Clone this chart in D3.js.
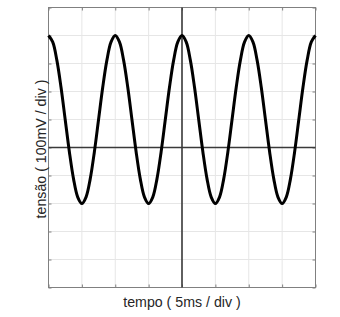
<!DOCTYPE html>
<html><head><meta charset="utf-8">
<script src="https://cdn.jsdelivr.net/npm/d3@7"></script>
<style>html,body{margin:0;padding:0;background:#fff;}svg{display:block;}</style>
</head><body>
<svg id="c" width="340" height="317"></svg>
<script>
// time in divisions (every 1/8 div), voltage in divisions
const timeDiv = d3.range(-32,33).map(k=>k/8);
const cycle = [4,3.77,3.12,2.15,1,-0.15,-1.12,-1.77,-2,-1.77,-1.12,-0.15,1,2.15,3.12,3.77];
const voltDiv = [
  4,3.77,3.12,2.15,1,-0.15,-1.12,-1.77,-2,-1.77,-1.12,-0.15,1,2.15,3.12,3.77,
  4,3.77,3.12,2.15,1,-0.15,-1.12,-1.77,-2,-1.77,-1.12,-0.15,1,2.15,3.12,3.77,
  4,3.77,3.12,2.15,1,-0.15,-1.12,-1.77,-2,-1.77,-1.12,-0.15,1,2.15,3.12,3.77,
  4,3.77,3.12,2.15,1,-0.15,-1.12,-1.77,-2,-1.77,-1.12,-0.15,1,2.15,3.12,3.77,
  4];
const xTicks = [-4,-3,-2,-1,0,1,2,3,4];
const yTicks = [-5,-4,-3,-2,-1,0,1,2,3,4,5];
const xLabel = "tempo ( 5ms / div )";
const yLabel = "tensão ( 100mV / div )";

const svg = d3.select("#c");
const L = 48.5, R = 315.5, T = 7.5, B = 287.5;
const x = d3.scaleLinear().domain([-4,4]).range([L,R]);
const y = d3.scaleLinear().domain([-5,5]).range([B,T]);

// grid
svg.append("g").selectAll("line").data(xTicks).join("line")
  .attr("x1",d=>x(d)).attr("x2",d=>x(d)).attr("y1",T).attr("y2",B)
  .attr("stroke","#e6e6e6").attr("stroke-width",1);
svg.append("g").selectAll("line").data(yTicks).join("line")
  .attr("y1",d=>y(d)).attr("y2",d=>y(d)).attr("x1",L).attr("x2",R)
  .attr("stroke","#e6e6e6").attr("stroke-width",1);

// axes with inward ticks, no labels
const axCol = "#808080";
function styleAxis(g){
  g.select(".domain").remove();
  g.selectAll(".tick line").attr("stroke",axCol);
  g.selectAll(".tick text").remove();
}
svg.append("g").attr("transform",`translate(0,${B})`).call(d3.axisBottom(x).tickValues(xTicks).tickSize(-3)).call(styleAxis);
svg.append("g").attr("transform",`translate(0,${T})`).call(d3.axisTop(x).tickValues(xTicks).tickSize(-3)).call(styleAxis);
svg.append("g").attr("transform",`translate(${L},0)`).call(d3.axisLeft(y).tickValues(yTicks).tickSize(-3)).call(styleAxis);
svg.append("g").attr("transform",`translate(${R},0)`).call(d3.axisRight(y).tickValues(yTicks).tickSize(-3)).call(styleAxis);

// box
svg.append("rect").attr("x",L).attr("y",T).attr("width",R-L).attr("height",B-T)
  .attr("fill","none").attr("stroke",axCol).attr("stroke-width",1);

// centre axes
svg.append("line").attr("x1",L).attr("x2",R).attr("y1",y(0)).attr("y2",y(0))
  .attr("stroke","#3a3a3a").attr("stroke-width",1.6);
svg.append("line").attr("x1",x(0)).attr("x2",x(0)).attr("y1",T).attr("y2",B)
  .attr("stroke","#3a3a3a").attr("stroke-width",1.6);

// wave
const pts = timeDiv.map((t,i)=>[t,voltDiv[i]]);
svg.append("path").datum(pts)
  .attr("d",d3.line().x(d=>x(d[0])).y(d=>y(d[1])).curve(d3.curveCatmullRom.alpha(0.5)))
  .attr("fill","none").attr("stroke","#000").attr("stroke-width",3).attr("stroke-linejoin","round");

// labels
svg.append("text").attr("x",(L+R)/2).attr("y",306.5).attr("text-anchor","middle")
  .attr("font-family","'Liberation Sans', Arial, sans-serif").attr("font-size",14.2).attr("fill","#262626").text(xLabel);
svg.append("text").attr("transform",`translate(45.5,${(T+B)/2+1.5}) rotate(-90)`).attr("text-anchor","middle")
  .attr("font-family","'Liberation Sans', Arial, sans-serif").attr("font-size",14.2).attr("fill","#262626").text(yLabel);
</script>
</body></html>
